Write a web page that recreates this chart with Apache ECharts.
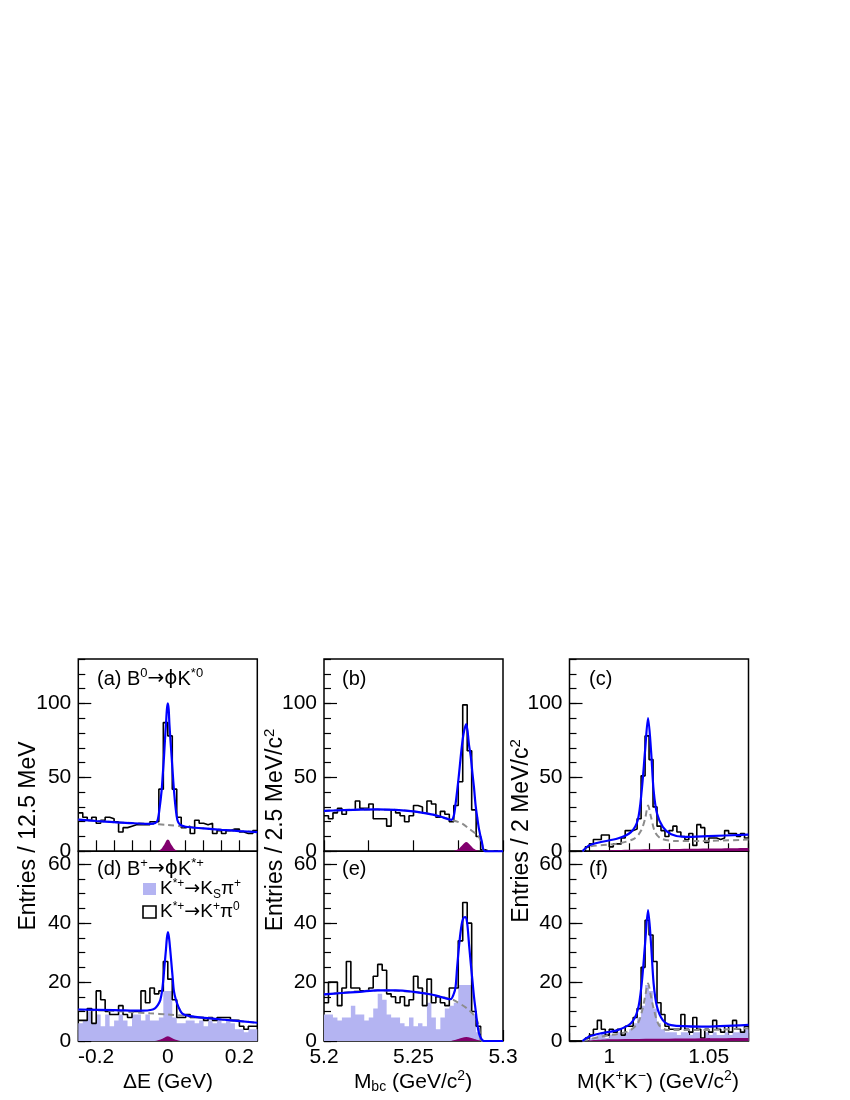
<!DOCTYPE html>
<html>
<head>
<meta charset="utf-8">
<script src="https://cdn.jsdelivr.net/npm/echarts@6/dist/echarts.min.js"></script>
<style>html,body{margin:0;padding:0;background:#fff}#main{width:850px;height:1100px}</style>
</head>
<body>
<div id="main"></div>
<script>
var F = 'Liberation Sans, Arial, Helvetica, sans-serif';
var FS = 'DejaVu Sans, sans-serif';

// 分箱: ΔE 12.5 MeV, Mbc 2.5 MeV, M(KK) 2 MeV
var deLo = -0.25, deBin = 0.0125;
var mbcLo = 5.2, mbcBin = 0.0025;
var mkkLo = 0.98, mkkBin = 0.002;

// (a) B0 -> phi K*0, ΔE
var histA = [26,23,21,23,19,21,23,22,20,13,16,17,18,18,18,18,20,20,42,87,78,42,23,16,17,12,21,19,18,19,12,14,12,14,15,15,13,12,12,14];
var fitA = [[-0.25,21.4],[-0.2,20.5],[-0.15,19.7],[-0.1,19],[-0.05,18.6],[-0.035,19.2],[-0.0285,21],[-0.023,29],[-0.0173,41],[-0.014,52],[-0.0106,64],[-0.008,75],[-0.005,86],[-0.0025,96],[0,100],[0.0025,96],[0.0045,86],[0.0075,75],[0.0107,64],[0.014,52],[0.0173,41],[0.022,29],[0.027,21],[0.034,18],[0.05,16.6],[0.1,15.5],[0.15,14.5],[0.2,13.7],[0.25,13]];
var bkgA = [[-0.25,21.4],[-0.15,19.7],[-0.05,18.6],[0,17.8],[0.05,16.6],[0.1,15.5],[0.15,14.5],[0.2,13.7],[0.25,13]];
var peakA = [[-0.03,0],[-0.02,1.2],[-0.01,4.5],[0,7.9],[0.01,4.5],[0.02,1.2],[0.03,0]];

// (b) Mbc
var histB = [24,22,26,29,25,28,28,34,29,29,32,22,22,22,17,28,26,24,20,24,31,30,26,34,32,23,27,25,20,31,47,99,68,28,10,1,0,0,0,0];
var fitB = [[5.2,27.3],[5.21,27.8],[5.22,28.2],[5.23,28.3],[5.24,28],[5.25,27],[5.26,25],[5.265,23.5],[5.2712,21.3],[5.2725,24],[5.2735,32],[5.2745,42],[5.2754,52],[5.2763,63],[5.2772,73],[5.2782,81],[5.2795,86],[5.281,72],[5.282,64],[5.2829,53],[5.2838,43],[5.2847,31],[5.2856,23],[5.2866,15],[5.2881,7],[5.2899,0],[5.3,0]];
var bkgB = [[5.2,27.3],[5.22,28.2],[5.24,28],[5.25,27],[5.26,25],[5.2712,21.3],[5.2772,18.7],[5.281,15.3],[5.2847,12],[5.2866,9.7],[5.2884,4.5],[5.2899,0],[5.3,0]];
var peakB = [[5.272,0],[5.275,1.5],[5.2775,4.5],[5.2795,6.3],[5.2815,4.5],[5.284,1.5],[5.287,0]];

// (c) M(K+K-)
var histC = [0,0,0,0,3,5,8,8,11,11,3,5,5,9,14,14,15,22,51,78,62,30,17,14,10,14,17,13,10,8,12,4,18,16,6,9,9,8,9,14,12,12,10,12,9];
var fitC = [[0.9865,0],[0.9899,4],[0.9958,6.3],[1.0042,8.6],[1.0109,13],[1.0143,21],[1.0163,41],[1.018,68],[1.0195,90],[1.021,68],[1.0223,41],[1.024,25.5],[1.0269,16.5],[1.0311,11.5],[1.0378,9.7],[1.0496,10.2],[1.07,11.3]];
var bkgC = [[0.9865,0],[0.9894,3],[1.0042,5.2],[1.0126,8.6],[1.016,14],[1.018,22],[1.0195,31],[1.021,23],[1.023,13],[1.026,8.6],[1.0328,7],[1.0462,7],[1.07,7.9]];
var peakC = [[0.9865,0],[0.995,0.6],[1.01,1.1],[1.03,1.5],[1.05,1.9],[1.07,2.3]];

// (d) B+ -> phi K*+, ΔE
var histD = [7,7,11,6,17,14,10,9,9,12,9,8,10,10,17,13,18,16,17,27,21,14,8,8,9,8,8,8,7,8,7,8,8,8,7,7,5,4,5,5];
var ksD = [6,7,10,6,9,5,9,5,7,9,7,5,9,9,7,9,7,7,8,17,17,8,6,6,7,7,6,7,5,7,6,7,6,7,6,4,4,3,4,4];
var fitD = [[-0.25,10.7],[-0.15,10.5],[-0.07,10.3],[-0.045,10.6],[-0.035,11.2],[-0.028,12.2],[-0.021,13.9],[-0.016,17],[-0.0118,21.8],[-0.0085,26.5],[-0.0053,30.8],[-0.0025,35],[0.0005,37],[0.0035,35],[0.0069,30.8],[0.01,26.5],[0.0134,21.8],[0.017,17],[0.0228,13.9],[0.03,11.5],[0.0396,9.4],[0.05,8.8],[0.077,8.2],[0.15,7.3],[0.25,6.2]];
var bkgD = [[-0.25,10.6],[-0.15,10.2],[-0.1,9.8],[-0.05,9.4],[0,9],[0.05,8.5],[0.1,7.9],[0.15,7.3],[0.2,6.8],[0.25,6.2]];
var peakD = [[-0.035,0],[-0.02,0.5],[-0.01,1.1],[0,1.6],[0.01,1.1],[0.02,0.5],[0.035,0]];

// (e) Mbc
var histE = [13,20,20,12,18,27,18,18,17,17,18,22,26,24,16,15,13,15,12,14,22,18,12,21,13,15,13,12,18,18,34,47,40,10,5,0,0,0,0,0];
var ksE = [9,9,8,7,8,8,12,9,9,7,8,11,16,14,9,8,8,6,5,8,5,6,5,13,8,4,8,11,12,13,19,19,19,9,3,0,0,0,0,0];
var fitE = [[5.2,15.8],[5.21,16.3],[5.22,16.7],[5.23,17.2],[5.24,17.2],[5.25,16.7],[5.26,15.8],[5.265,15],[5.2707,14.2],[5.2725,16],[5.2735,18.4],[5.2744,25.2],[5.2754,32],[5.2763,37],[5.2772,40.5],[5.2782,42],[5.2791,42.1],[5.28,40],[5.281,33],[5.282,26.3],[5.2829,20.7],[5.2838,15],[5.2847,10.5],[5.2856,6],[5.2866,2.6],[5.288,0.6],[5.2895,0],[5.3,0]];
var bkgE = [[5.2,15.8],[5.23,17.2],[5.25,16.7],[5.26,15.8],[5.2707,14.2],[5.2725,13.9],[5.28,11],[5.2847,8],[5.2866,5],[5.2884,0],[5.3,0]];
var peakE = [[5.271,0],[5.275,0.7],[5.2795,1.4],[5.284,0.7],[5.288,0]];

// (f) M(K+K-)
var histF = [0,0,0,0,1,2,4,7,4,2,4,3,4,2,5,5,8,11,25,41,36,27,13,9,5,4,4,4,9,4,3,8,4,1,4,3,7,4,3,5,3,7,4,3,5];
var ksF = [0,0,0,0,0,1,1,2,3,1,2,2,3,2,3,4,6,8,12,19,17,11,6,4,3,3,3,2,3,3,2,3,3,1,3,2,3,2,2,3,2,3,3,3,4];
var fitF = [[0.9865,0],[0.9899,1.5],[0.9958,2.6],[1.0042,3.7],[1.0109,6],[1.0143,10.5],[1.0163,19.5],[1.018,33],[1.0195,44.4],[1.021,33],[1.0223,19.5],[1.024,11.6],[1.0269,7.1],[1.0311,5.4],[1.0462,4.9],[1.07,5.5]];
var bkgF = [[0.9865,0],[0.9958,1.5],[1.0092,3.2],[1.0143,6],[1.0166,10.5],[1.018,15],[1.0195,19.5],[1.021,15],[1.0225,10.5],[1.025,5.4],[1.0294,3.7],[1.0462,3.7],[1.07,4.3]];
var peakF = [[0.9865,0],[1.0,0.6],[1.03,0.8],[1.07,1.0]];

// 刻度
var deTicks = [-0.25,-0.2,-0.15,-0.1,-0.05,0,0.05,0.1,0.15,0.2,0.25];
var deLabels = [-0.2,0,0.2];
var mbcTicks = [5.2,5.225,5.25,5.275,5.3];
var mbcLabels = [5.2,5.25,5.3];
var mkkTicks = [0.98,0.99,1,1.01,1.02,1.03,1.04,1.05,1.06,1.07];
var mkkLabels = [1,1.05];
var yTopMajor = [0,50,100];
var yTopMinor = [0,10,20,30,40,50,60,70,80,90,100,110,120,130];
var yBotMajor = [0,20,40,60];
var yBotMinor = [0,5,10,15,20,25,30,35,40,45,50,55,60];

var LAV = '#b4b4f2', PUR = '#82006e';

function stepData(lo, bin, vals) {
  var d = vals.map(function (v, i) { return [lo + i * bin, v]; });
  d.push([lo + vals.length * bin, vals[vals.length - 1]]);
  return d;
}
function fmt(v) { return String(+(+v).toFixed(3)); }

var cols = [78.3, 324, 569.5];
var panels = [
  {c:0, r:0, hist:histA, lo:deLo, bin:deBin, fit:fitA, bkg:bkgA, peak:peakA, xr:[-0.25,0.25], xt:deTicks, xl:deLabels, xlen:11},
  {c:1, r:0, hist:histB, lo:mbcLo, bin:mbcBin, fit:fitB, bkg:bkgB, peak:peakB, xr:[5.2,5.3], xt:mbcTicks, xl:mbcLabels, xlen:11},
  {c:2, r:0, hist:histC, lo:mkkLo, bin:mkkBin, fit:fitC, bkg:bkgC, peak:peakC, xr:[0.98,1.07], xt:mkkTicks, xl:mkkLabels, xlen:8},
  {c:0, r:1, hist:histD, ks:ksD, lo:deLo, bin:deBin, fit:fitD, bkg:bkgD, peak:peakD, xr:[-0.25,0.25], xt:deTicks, xl:deLabels, xlen:11},
  {c:1, r:1, hist:histE, ks:ksE, lo:mbcLo, bin:mbcBin, fit:fitE, bkg:bkgE, peak:peakE, xr:[5.2,5.3], xt:mbcTicks, xl:mbcLabels, xlen:11},
  {c:2, r:1, hist:histF, ks:ksF, lo:mkkLo, bin:mkkBin, fit:fitF, bkg:bkgF, peak:peakF, xr:[0.98,1.07], xt:mkkTicks, xl:mkkLabels, xlen:8}
];

var grids = [], xAxes = [], yAxes = [], series = [];
panels.forEach(function (p, i) {
  var top = p.r === 0 ? 659 : 851.3;
  var h = p.r === 0 ? 192.3 : 189.7;
  grids.push({left: cols[p.c], top: top, width: 179, height: h, show: true,
    borderColor: '#000', borderWidth: 1.5, backgroundColor: 'transparent'});
  xAxes.push({type: 'value', gridIndex: i, min: p.xr[0], max: p.xr[1], position: 'bottom',
    axisLine: {show: false, onZero: false}, splitLine: {show: false},
    axisTick: {inside: true, length: p.xlen, customValues: p.xt, lineStyle: {color: '#000', width: 1.2}},
    axisLabel: {show: p.r === 1, customValues: p.xl, margin: 6, fontSize: 21, color: '#000', fontFamily: F, formatter: fmt}});
  var ymax = p.r === 0 ? 130 : 64.4;
  var maj = p.r === 0 ? yTopMajor : yBotMajor;
  var mnr = p.r === 0 ? yTopMinor : yBotMinor;
  yAxes.push({type: 'value', gridIndex: i, min: 0, max: ymax, position: 'left',
    axisLine: {show: false, onZero: false}, splitLine: {show: false},
    axisTick: {inside: true, length: 13, customValues: maj, lineStyle: {color: '#000', width: 1.2}},
    axisLabel: {customValues: maj, margin: 7, fontSize: 21, color: '#000', fontFamily: F, formatter: fmt}});
  yAxes.push({type: 'value', gridIndex: i, min: 0, max: ymax, position: 'left',
    axisLine: {show: false, onZero: false}, splitLine: {show: false},
    axisTick: {inside: true, length: 7, customValues: mnr, lineStyle: {color: '#000', width: 1.2}},
    axisLabel: {show: false}});
  var yi = 2 * i;
  if (p.ks) {
    series.push({type: 'line', xAxisIndex: i, yAxisIndex: yi, step: 'end', symbol: 'none', silent: true,
      data: stepData(p.lo, p.bin, p.ks), lineStyle: {opacity: 0, width: 0},
      areaStyle: {color: LAV, opacity: 1}, z: 1});
  }
  series.push({type: 'line', xAxisIndex: i, yAxisIndex: yi, step: 'end', symbol: 'none', silent: true,
    data: stepData(p.lo, p.bin, p.hist), lineStyle: {color: '#000', width: 1.6}, z: 3});
  series.push({type: 'line', xAxisIndex: i, yAxisIndex: yi, smooth: 0.4, symbol: 'none', silent: true,
    data: p.peak, lineStyle: {opacity: 0, width: 0}, areaStyle: {color: PUR, opacity: 1}, z: 4});
  series.push({type: 'line', xAxisIndex: i, yAxisIndex: yi, smooth: 0.3, symbol: 'none', silent: true,
    data: p.bkg, lineStyle: {color: '#8c8c8c', width: 2, type: [6, 4]}, z: 5});
  series.push({type: 'line', xAxisIndex: i, yAxisIndex: yi, smooth: 0.3, symbol: 'none', silent: true,
    data: p.fit, lineStyle: {color: '#0000ff', width: 2.2}, z: 6});
});

function rich(s) {
  var m = Math.round(s * 0.65);
  return {
    n: {fontSize: s, fontFamily: F, lineHeight: s + 4},
    g: {fontSize: s, fontFamily: FS, lineHeight: s + 4},
    u: {fontSize: m, fontFamily: F, verticalAlign: 'top', lineHeight: m},
    d: {fontSize: m, fontFamily: F, verticalAlign: 'bottom', lineHeight: m}
  };
}
function txt(x, y, text, size, align, rot) {
  return {type: 'text', x: x, y: y, rotation: rot || 0, z: 100, silent: true,
    style: {text: text, rich: rich(size), fill: '#000', font: size + 'px ' + F,
      align: align || 'left', verticalAlign: 'middle'}};
}

var graphics = [
  txt(97, 679, '{n|(a) B}{u|0}{g|→ϕ}{n|K}{u|*0}', 20),
  txt(342, 679, '{n|(b)}', 20),
  txt(589, 679, '{n|(c)}', 20),
  txt(97, 869, '{n|(d) B}{u|+}{g|→ϕ}{n|K}{u|*+}', 20),
  txt(342, 869, '{n|(e)}', 20),
  txt(589, 869, '{n|(f)}', 20),
  {type: 'rect', z: 100, silent: true, shape: {x: 143, y: 883, width: 13, height: 12}, style: {fill: LAV}},
  {type: 'rect', z: 100, silent: true, shape: {x: 143, y: 906, width: 13, height: 12}, style: {fill: 'none', stroke: '#000', lineWidth: 1.6}},
  txt(160, 889, '{n|K}{u|*+}{g|→}{n|K}{d|S}{n|π}{u|+}', 19),
  txt(160, 912, '{n|K}{u|*+}{g|→}{n|K}{u|+}{n|π}{u|0}', 19),
  txt(168, 1082, '{n|ΔE (GeV)}', 21, 'center'),
  txt(413, 1082, '{n|M}{d|bc}{n| (GeV/c}{u|2}{n|)}', 21, 'center'),
  txt(658, 1082, '{n|M(K}{u|+}{n|K}{u|−}{n|) (GeV/c}{u|2}{n|)}', 21, 'center'),
  txt(29, 836, '{n|Entries / 12.5 MeV}', 23, 'center', Math.PI / 2),
  txt(276, 830, '{n|Entries / 2.5 MeV/c}{u|2}', 23, 'center', Math.PI / 2),
  txt(522, 831, '{n|Entries / 2 MeV/c}{u|2}', 23, 'center', Math.PI / 2)
];

var myChart = echarts.init(document.getElementById('main'), null, {renderer: 'canvas'});
myChart.setOption({
  animation: false,
  backgroundColor: '#fff',
  grid: grids,
  xAxis: xAxes,
  yAxis: yAxes,
  series: series,
  graphic: graphics
});
</script>
</body>
</html>
